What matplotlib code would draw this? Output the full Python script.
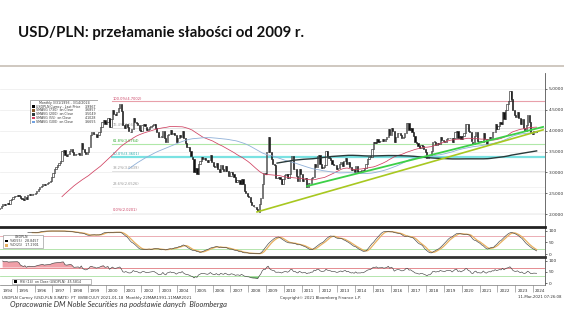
import numpy as np
import pandas as pd
import matplotlib
matplotlib.use("Agg")
import matplotlib.pyplot as plt
from matplotlib.patches import Rectangle
from matplotlib.lines import Line2D

# USD/PLN monthly closes, Jan 1993 .. Mar 2024 (one row per year)
start_year = 1993
usdpln_close = [
    1.58, 1.61, 1.64, 1.66, 1.70, 1.76, 1.80, 1.86, 1.92, 1.96, 2.02, 2.11,
    2.15, 2.19, 2.24, 2.22, 2.23, 2.26, 2.25, 2.33, 2.36, 2.40, 2.43, 2.44,
    2.46, 2.44, 2.38, 2.36, 2.34, 2.42, 2.37, 2.45, 2.47, 2.46, 2.48, 2.47,
    2.51, 2.56, 2.60, 2.64, 2.68, 2.72, 2.70, 2.73, 2.74, 2.76, 2.79, 2.88,
    2.98, 3.07, 3.13, 3.17, 3.22, 3.27, 3.50, 3.53, 3.42, 3.40, 3.45, 3.52,
    3.55, 3.50, 3.42, 3.43, 3.45, 3.47, 3.42, 3.70, 3.55, 3.48, 3.45, 3.50,
    3.62, 3.90, 3.97, 3.92, 3.91, 3.85, 3.90, 3.96, 4.08, 4.20, 4.25, 4.15,
    4.20, 4.30, 4.09, 4.28, 4.50, 4.40, 4.38, 4.45, 4.55, 4.65, 4.48, 4.14,
    4.07, 4.17, 4.08, 3.98, 3.97, 4.05, 4.30, 4.20, 4.18, 4.13, 4.02, 3.99,
    4.13, 4.17, 4.10, 4.02, 4.05, 4.08, 4.11, 4.13, 4.15, 4.06, 3.98, 3.84,
    3.84, 3.86, 4.00, 3.82, 3.72, 3.90, 3.93, 4.01, 3.91, 3.94, 3.89, 3.74,
    3.83, 3.89, 3.86, 3.99, 3.82, 3.70, 3.62, 3.60, 3.51, 3.38, 3.31, 3.00,
    3.10, 2.97, 3.19, 3.28, 3.37, 3.33, 3.34, 3.29, 3.24, 3.29, 3.42, 3.26,
    3.16, 3.12, 3.23, 3.08, 3.02, 3.18, 3.09, 3.04, 3.16, 3.04, 2.92, 2.91,
    3.01, 2.97, 2.90, 2.78, 2.82, 2.81, 2.73, 2.83, 2.71, 2.55, 2.51, 2.44,
    2.42, 2.30, 2.22, 2.18, 2.17, 2.13, 2.06, 2.23, 2.38, 2.73, 2.99, 2.96,
    3.48, 3.85, 3.49, 3.31, 3.21, 3.18, 2.87, 2.86, 2.88, 2.84, 2.73, 2.85,
    2.94, 2.96, 2.86, 2.97, 3.30, 3.39, 3.07, 3.09, 2.91, 2.80, 3.07, 2.96,
    2.80, 2.84, 2.86, 2.65, 2.75, 2.75, 2.87, 2.88, 3.20, 3.12, 3.40, 3.42,
    3.20, 3.10, 3.12, 3.18, 3.51, 3.38, 3.34, 3.29, 3.19, 3.17, 3.18, 3.09,
    3.10, 3.19, 3.26, 3.16, 3.28, 3.34, 3.19, 3.25, 3.13, 3.05, 3.08, 3.01,
    3.16, 3.01, 3.03, 3.02, 3.05, 3.04, 3.11, 3.20, 3.31, 3.36, 3.38, 3.55,
    3.72, 3.71, 3.80, 3.72, 3.75, 3.76, 3.79, 3.75, 3.79, 3.86, 4.03, 3.90,
    4.07, 4.00, 3.73, 3.86, 3.94, 3.95, 3.90, 3.83, 3.85, 3.94, 4.18, 4.18,
    4.02, 4.06, 3.96, 3.87, 3.73, 3.70, 3.63, 3.59, 3.65, 3.63, 3.55, 3.48,
    3.34, 3.42, 3.42, 3.52, 3.72, 3.74, 3.66, 3.71, 3.69, 3.84, 3.78, 3.76,
    3.73, 3.81, 3.83, 3.82, 3.83, 3.73, 3.83, 3.96, 4.00, 3.82, 3.88, 3.79,
    3.88, 3.95, 4.15, 4.16, 4.00, 3.96, 3.74, 3.68, 3.87, 3.96, 3.74, 3.76,
    3.72, 3.74, 3.95, 3.79, 3.67, 3.80, 3.86, 3.83, 3.98, 3.96, 4.15, 4.04,
    4.12, 4.20, 4.17, 4.44, 4.28, 4.49, 4.64, 4.72, 4.95, 4.77, 4.50, 4.38,
    4.34, 4.45, 4.30, 4.16, 4.27, 4.06, 4.00, 4.13, 4.37, 4.20, 3.94, 3.93,
    4.00, 3.99, 3.97,
]

# Fibonacci retracement 2000 high -> 2008 low
fib_high = 4.7002
fib_low = 2.0201
fib_pcts = [100.0, 76.4, 61.8, 50.0, 38.2, 23.6, 0.0]
fib_start = 2000.35

# trend lines (date, price)
trend_2008_x = [2008.50, 2024.57]
trend_2008_y = [2.05, 4.02]
trend_2011_x = [2011.31, 2024.57]
trend_2011_y = [2.67, 4.09]

sma_periods = [55, 100, 200]
years = list(range(1994, 2025))

legend_rows = [
    ("USDPLN Curncy - Last Price", "3.9967", "black"),
    ("SMAVG (730)  on Close", "3.6857", "#8b5a2b"),
    ("SMAVG (200)  on Close", "3.5049", "#2a3a3a"),
    ("SMAVG (55)  on Close", "4.1028", "#d04060"),
    ("SMAVG (100)  on Close", "3.6655", "#6fa0e0"),
]

# ---- derived series ----
close = np.array(usdpln_close)
t = start_year + (np.arange(len(close)) + 0.5) / 12.0
opn = np.r_[close[0], close[:-1]]
s = pd.Series(close)
sma = {p: s.rolling(p).mean() for p in sma_periods}

ll = s.rolling(21).min()
hh = s.rolling(21).max()
stoch_k = (100 * (s - ll) / (hh - ll)).rolling(12).mean()
stoch_d = stoch_k.rolling(4).mean()

d = s.diff()
gain = d.clip(lower=0).ewm(alpha=1 / 14, adjust=False).mean()
loss = (-d.clip(upper=0)).ewm(alpha=1 / 14, adjust=False).mean()
rsi = 100 - 100 / (1 + gain / loss.replace(0, 1e-9))
rsi[:14] = np.nan

# ---- figure (pixel helpers) ----
W, H = 564, 314
fig = plt.figure(figsize=(W / 100, H / 100), dpi=100)
fig.patch.set_facecolor("white")


def fx(x):
    return x / W


def fy(y):
    return 1 - y / H


x0, x1 = 1994.06, 1994.06 + 545 / 17.8

ax = fig.add_axes([0, fy(227), fx(545), (227 - 73) / H])
ax_st = fig.add_axes([0, fy(257), fx(545), 30 / H])
ax_rsi = fig.add_axes([0, fy(285), fx(545), 28 / H])

for a in (ax, ax_st, ax_rsi):
    a.set_xlim(x0, x1)
    a.yaxis.tick_right()
    a.tick_params(axis="y", labelsize=3.2, length=1.5, width=0.5, pad=1,
                  colors="#333333")
    a.set_xticks([])
    for sp in ("left", "top", "bottom"):
        a.spines[sp].set_visible(False)
    a.spines["right"].set_color("#555555")
    a.spines["right"].set_linewidth(0.6)

# ---- main price panel ----
ax.set_ylim(1.688, 5.384)
ax.set_yticks(np.arange(2.0, 5.01, 0.5))
ax.set_yticklabels([f"{v:.4f}" for v in np.arange(2.0, 5.01, 0.5)])
for v in np.arange(2.0, 5.01, 0.5):
    ax.axhline(v, color="#ececec", lw=0.5, zorder=0)

fib_line_colors = ["#e8a0aa", "#dcdcdc", "#b0e8a8", "#7ae2e2", "#dcdcdc", "#eeeeee", "#eeeeee"]
fib_text_colors = ["#cc4466", "#999999", "#33aa33", "#22aaaa", "#999999", "#999999", "#cc4466"]
fib_widths = [0.8, 0.6, 0.8, 1.6, 0.6, 0.5, 0.5]
for pct, lc, tc, lw in zip(fib_pcts, fib_line_colors, fib_text_colors, fib_widths):
    lvl = fib_low + (fib_high - fib_low) * pct / 100
    ax.plot([fib_start, x1], [lvl, lvl], color=lc, lw=lw, zorder=1)
    ax.text(fib_start + 0.05, lvl + 0.02, f"{pct:.1f}%({lvl:.4f})", fontsize=2.6,
            color=tc, va="bottom", ha="left", zorder=2)

up = close >= opn
ax.bar(t[up], close[up] - opn[up], bottom=opn[up], width=0.065, color="white",
       edgecolor="#111111", lw=0.4, zorder=3)
ax.bar(t[~up], close[~up] - opn[~up], bottom=opn[~up], width=0.065, color="#111111",
       edgecolor="#111111", lw=0.4, zorder=3)

ax.plot(t, sma[55], color="#d04060", lw=0.55, zorder=4)
ax.plot(t, sma[100], color="#8fb0d8", lw=0.6, zorder=4)
ax.plot(t, sma[200], color="#2a3a3a", lw=1.0, zorder=4)

ax.plot(trend_2008_x, trend_2008_y, color="#a8c820", lw=1.2, zorder=5)
ax.plot(trend_2011_x, trend_2011_y, color="#3cd048", lw=1.3, zorder=5)

# legend box (main panel)
ax_box = fig.add_axes([fx(30), fy(124), fx(68), 24 / H])
ax_box.set_xlim(0, 68)
ax_box.set_ylim(24, 0)
ax_box.axis("off")
ax_box.add_patch(Rectangle((0, 0), 68, 24, facecolor="white", edgecolor="#888888", lw=0.5))
ax_box.text(34, 2.6, "Monthly 3/31/1993 - 3/14/2024", fontsize=2.3, ha="center",
            va="center", color="#333333")
for i, (name, val, col) in enumerate(legend_rows):
    yy = 6.6 + i * 3.8
    ax_box.add_patch(Rectangle((2, yy - 1.3), 2.6, 2.6, facecolor=col, edgecolor="none"))
    ax_box.text(6, yy, name, fontsize=2.3, va="center", color="#333333")
    ax_box.text(66, yy, val, fontsize=2.3, va="center", ha="right", color="#333333")

# ---- stochastic panel ----
ax_st.set_ylim(-13, 117)
ax_st.set_yticks([0, 50, 100])
ax_st.set_yticklabels(["0", "50", "100"])
ax_st.spines["top"].set_visible(True)
ax_st.spines["top"].set_color("#222222")
ax_st.spines["top"].set_linewidth(2.0)
ax_st.axhline(80, color="#e8a0a8", lw=0.6)
ax_st.axhline(20, color="#a8e0a0", lw=0.6)
ax_st.plot(t, stoch_d, color="#e8b060", lw=0.9)
ax_st.plot(t, stoch_k, color="#444444", lw=0.45)

ax_st.add_patch(Rectangle((0.005, 0.3), 0.073, 0.42, transform=ax_st.transAxes,
                          facecolor="white", edgecolor="#888888", lw=0.4, zorder=6))
ax_st.text(0.04, 0.655, "USDPLN", transform=ax_st.transAxes, fontsize=2.3, ha="center",
           va="center", zorder=7, color="#333333")
for i, (lab, col) in enumerate([("%K(55)   28.8457", "black"), ("%D(21)   17.2901", "#e8b060")]):
    yy = 0.53 - i * 0.14
    ax_st.add_patch(Rectangle((0.009, yy - 0.04), 0.006, 0.08, transform=ax_st.transAxes,
                              facecolor=col, edgecolor="none", zorder=7))
    ax_st.text(0.018, yy, lab, transform=ax_st.transAxes, fontsize=2.3, va="center",
               zorder=7, color="#333333")

# ---- RSI panel ----
ax_rsi.set_ylim(-9, 118)
ax_rsi.set_yticks([0, 50, 100])
ax_rsi.set_yticklabels(["0", "50", "100"])
ax_rsi.spines["top"].set_visible(True)
ax_rsi.spines["top"].set_color("#333333")
ax_rsi.spines["top"].set_linewidth(2.0)
ax_rsi.spines["bottom"].set_visible(True)
ax_rsi.spines["bottom"].set_color("#777777")
ax_rsi.spines["bottom"].set_linewidth(0.5)
ax_rsi.axhline(70, color="#e07a80", lw=0.6)
ax_rsi.axhline(30, color="#a8e0a0", lw=0.6)
rv = rsi.to_numpy()
ax_rsi.fill_between(t, 70, rv, where=rv > 70, color="#f0a0a8", lw=0, interpolate=True)
ax_rsi.fill_between(t, 30, rv, where=rv < 30, color="#70c870", lw=0, interpolate=True)
ax_rsi.plot(t, rv, color="#444444", lw=0.45)

ax_rsi.add_patch(Rectangle((0.022, 0.02), 0.145, 0.2, transform=ax_rsi.transAxes,
                           facecolor="white", edgecolor="#888888", lw=0.4, zorder=6))
ax_rsi.add_patch(Rectangle((0.026, 0.07), 0.006, 0.1, transform=ax_rsi.transAxes,
                           facecolor="black", edgecolor="none", zorder=7))
ax_rsi.text(0.036, 0.12, "RSI (14)  on Close (USDPLN)  45.5814", transform=ax_rsi.transAxes,
            fontsize=2.3, va="center", zorder=7, color="#333333")

# year separators and labels
ax_rsi.set_xticks([y for y in years if y > x0])
ax_rsi.set_xticklabels([])
ax_rsi.tick_params(axis="x", length=5, width=0.4, colors="#777777", direction="out")
for y in years:
    ax_rsi.text(max(y, x0) + 0.12, -0.2, str(y), transform=ax_rsi.get_xaxis_transform(),
                fontsize=3.0, ha="left", va="center", color="#333333", clip_on=False)

# ---- slide texts ----
fig.text(fx(18), fy(33), "USD/PLN: przełamanie słabości od 2009 r.", fontsize=10.8,
         fontweight="bold", family="Lato", va="center", ha="left", color="#111111")
fig.add_artist(Line2D([0, 1], [fy(66), fy(66)], color="#cfc8c0", lw=1.4))

fig.text(fx(2), fy(297.5),
         "USDPLN Curncy (USD-PLN X-RATE)  FT  BVBECUUY 2021-01-18  Monthly 22MAR1991-11MAR2021",
         fontsize=2.8, va="center", ha="left", color="#333333")
fig.text(fx(320), fy(297.5), "Copyright\u00a9 2021 Bloomberg Finance L.P.", fontsize=2.8,
         va="center", ha="center", color="#333333")
fig.text(fx(562), fy(297.5), "11-Mar-2021 07:26:08", fontsize=2.8, va="center",
         ha="right", color="#333333")
fig.text(fx(10), fy(304.5), "Opracowanie DM Noble Securities na podstawie danych  Bloomberga",
         fontsize=5.4, style="italic", family="Lato", va="center", ha="left", color="#333333")

fig.savefig("out.png", dpi=100)
